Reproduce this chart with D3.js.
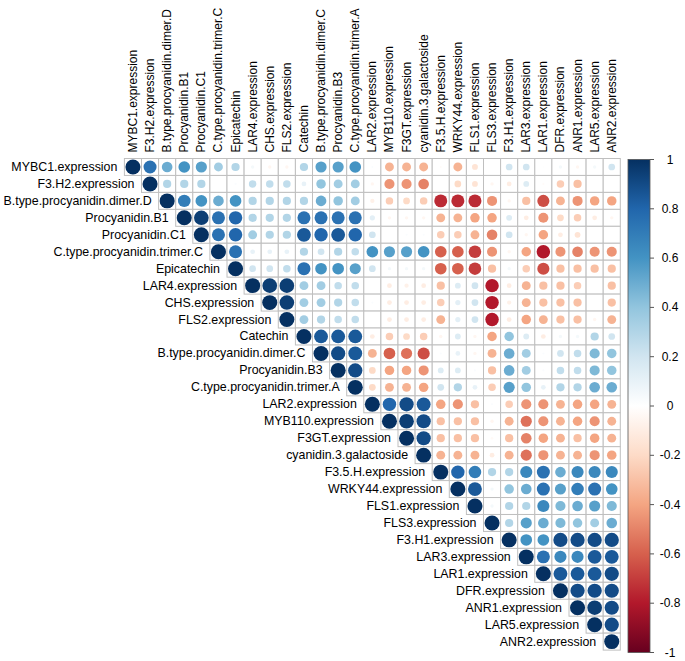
<!DOCTYPE html>
<html>
<head>
<meta charset="utf-8">
<script src="https://cdn.jsdelivr.net/npm/d3@7"></script>
<style>
    body { margin: 0; background: #fff; }
    svg { display: block; font-family: "Liberation Sans", Arial, sans-serif; }
</style>
</head>
<body>
<div id="chart"></div>
<script>
// variable names, same order for rows and columns
const vars = [
    "MYBC1.expression", "F3.H2.expression", "B.type.procyanidin.dimer.D", "Procyanidin.B1",
    "Procyanidin.C1", "C.type.procyanidin.trimer.C", "Epicatechin", "LAR4.expression",
    "CHS.expression", "FLS2.expression", "Catechin", "B.type.procyanidin.dimer.C",
    "Procyanidin.B3", "C.type.procyanidin.trimer.A", "LAR2.expression", "MYB110.expression",
    "F3GT.expression", "cyanidin.3.galactoside", "F3.5.H.expression", "WRKY44.expression",
    "FLS1.expression", "FLS3.expression", "F3.H1.expression", "LAR3.expression",
    "LAR1.expression", "DFR.expression", "ANR1.expression", "LAR5.expression", "ANR2.expression"
];

// upper triangle, row i holds correlations with columns i+1 .. end (diagonal is 1)
const upper = [
    [0.75, 0.5, 0.6, 0.55, 0.35, 0.3, 0.05, -0.05, -0.05, 0.3, 0.55, 0.55, 0.6, 0.02, -0.35, -0.35, -0.35, -0.02, -0.35, -0.15, 0, 0.2, 0.2, 0.01, 0.05, -0.05, 0.05, 0.2],
    [0.3, 0.3, 0.3, 0, 0.02, 0.25, 0.25, 0.25, 0.1, 0.4, 0.35, 0.35, -0.05, -0.45, -0.45, -0.5, 0, -0.2, -0.15, -0.05, -0.1, 0.15, -0.02, -0.25, -0.3, 0, 0],
    [0.7, 0.6, 0.5, 0.6, 0.3, 0.3, 0.3, 0.3, 0.5, 0.4, 0.35, -0.08, -0.25, -0.2, -0.25, -0.75, -0.75, -0.75, -0.45, -0.05, -0.3, -0.65, -0.35, -0.45, -0.4, -0.4],
    [0.95, 0.75, 0.8, 0.3, 0.3, 0.3, 0.75, 0.75, 0.75, 0.75, 0.12, -0.05, -0.05, -0.05, -0.35, -0.35, -0.4, -0.4, 0.15, -0.1, -0.45, -0.2, -0.25, -0.1, -0.05],
    [0.75, 0.8, 0.35, 0.3, 0.3, 0.85, 0.8, 0.85, 0.8, 0.2, 0, 0.02, 0.02, -0.25, -0.25, -0.35, -0.5, 0.2, -0.05, -0.4, -0.1, -0.15, 0, 0],
    [0.75, 0.1, 0.1, 0.1, 0.3, 0.2, 0.3, 0.25, 0.6, 0.55, 0.55, 0.6, -0.6, -0.6, -0.7, -0.45, -0.05, -0.4, -0.8, -0.45, -0.5, -0.45, -0.45],
    [0.2, 0.2, 0.25, 0.75, 0.6, 0.6, 0.55, 0.2, 0.05, 0.05, 0.05, -0.6, -0.6, -0.7, -0.3, 0.05, -0.25, -0.65, -0.3, -0.3, -0.3, -0.3],
    [0.95, 0.95, 0.35, 0.35, 0.25, 0.25, 0, -0.1, -0.08, -0.1, -0.3, 0.15, 0.2, -0.8, -0.1, -0.35, -0.3, -0.3, -0.25, 0, -0.3],
    [0.95, 0.35, 0.35, 0.3, 0.25, 0.02, -0.1, -0.1, -0.1, -0.25, 0.12, 0.2, -0.8, -0.08, -0.35, -0.3, -0.3, -0.3, 0, -0.3],
    [0.35, 0.3, 0.25, 0.25, 0, -0.1, -0.1, -0.1, -0.35, 0.12, 0.2, -0.8, -0.1, -0.4, -0.35, -0.3, -0.3, -0.05, -0.35],
    [0.85, 0.85, 0.85, -0.1, -0.25, -0.2, -0.25, -0.05, 0.15, -0.05, -0.4, 0.4, 0.15, -0.1, 0.05, 0.05, 0.3, 0.2],
    [0.9, 0.85, -0.35, -0.6, -0.55, -0.65, 0.02, 0.1, -0.05, -0.35, 0.5, 0.35, 0.02, 0.2, 0.25, 0.45, 0.4],
    [0.9, -0.2, -0.4, -0.4, -0.45, 0.15, 0.15, 0.02, -0.3, 0.5, 0.35, 0.02, 0.25, 0.25, 0.45, 0.4],
    [-0.2, -0.35, -0.35, -0.4, 0.2, 0.3, 0.1, -0.25, 0.55, 0.4, 0.1, 0.3, 0.3, 0.5, 0.5],
    [0.8, 0.9, 0.85, -0.4, -0.45, -0.3, 0.02, -0.25, -0.45, -0.45, -0.35, -0.4, -0.4, -0.35],
    [0.95, 0.9, -0.3, -0.3, -0.3, -0.05, -0.35, -0.55, -0.45, -0.35, -0.4, -0.45, -0.35],
    [0.9, -0.3, -0.3, -0.3, -0.03, -0.3, -0.5, -0.4, -0.35, -0.3, -0.4, -0.35],
    [-0.35, -0.35, -0.35, -0.1, -0.35, -0.55, -0.45, -0.35, -0.35, -0.45, -0.4],
    [0.8, 0.7, 0.3, 0.3, 0.65, 0.75, 0.5, 0.65, 0.65, 0.65],
    [0.85, 0.05, 0.4, 0.5, 0.75, 0.55, 0.7, 0.75, 0.6],
    [0.05, 0.3, 0.3, 0.65, 0.45, 0.5, 0.55, 0.45],
    [0.3, 0.55, 0.5, 0.45, 0.4, 0.35, 0.5],
    [0.6, 0.6, 0.9, 0.9, 0.9, 0.9],
    [0.75, 0.65, 0.65, 0.85, 0.85],
    [0.85, 0.85, 0.85, 0.9],
    [0.9, 0.9, 0.9],
    [0.95, 0.9],
    [0.9],
    []
];

const legendTicks = [1, 0.8, 0.6, 0.4, 0.2, 0, -0.2, -0.4, -0.6, -0.8, -1];

// RdBu ramp, from -1 to 1
const palette = ["#67001F", "#B2182B", "#D6604D", "#F4A582", "#FDDBC7", "#FFFFFF",
                 "#D1E5F0", "#92C5DE", "#4393C3", "#2166AC", "#053061"];

const width = 685, height = 661;

const svg = d3.select("#chart").append("svg")
    .attr("width", width)
    .attr("height", height);

const x = d3.scaleBand().domain(vars).range([124.4, 620.3]);
const y = d3.scaleBand().domain(vars).range([158.5, 650.1]);
const color = d3.scaleLinear()
    .domain(palette.map((c, i) => -1 + i * 0.2))
    .range(palette);

// flatten to cells (upper triangle incl. diagonal)
const cells = [];
vars.forEach((rv, i) => {
    cells.push({ row: rv, col: rv, r: 1 });
    upper[i].forEach((v, k) => cells.push({ row: rv, col: vars[i + k + 1], r: v }));
});

const g = svg.append("g");

g.selectAll("rect.cell")
    .data(cells)
    .enter().append("rect")
    .attr("class", "cell")
    .attr("x", d => x(d.col))
    .attr("y", d => y(d.row))
    .attr("width", x.bandwidth())
    .attr("height", y.bandwidth())
    .attr("fill", "#fff")
    .attr("stroke", "#bfbfbf")
    .attr("stroke-width", 1);

g.selectAll("ellipse")
    .data(cells)
    .enter().append("ellipse")
    .attr("cx", d => x(d.col) + x.bandwidth() / 2)
    .attr("cy", d => y(d.row) + y.bandwidth() / 2)
    .attr("rx", d => 0.44 * Math.sqrt(Math.abs(d.r)) * x.bandwidth())
    .attr("ry", d => 0.44 * Math.sqrt(Math.abs(d.r)) * y.bandwidth())
    .attr("fill", d => color(d.r));

// row labels, ending just left of the diagonal cell
svg.selectAll("text.rowlab")
    .data(vars)
    .enter().append("text")
    .attr("class", "rowlab")
    .attr("x", d => x(d) - 7)
    .attr("y", d => y(d) + y.bandwidth() / 2)
    .attr("text-anchor", "end")
    .attr("dominant-baseline", "central")
    .style("font-size", "12.4px")
    .text(d => d);

// column labels, vertical
svg.selectAll("text.collab")
    .data(vars)
    .enter().append("text")
    .attr("class", "collab")
    .attr("transform", d => "translate(" + (x(d) + x.bandwidth() / 2) + "," + (y.range()[0] - 6) + ") rotate(-90)")
    .attr("text-anchor", "start")
    .attr("dominant-baseline", "central")
    .style("font-size", "12px")
    .text(d => d);

// colour legend
const defs = svg.append("defs");
const grad = defs.append("linearGradient")
    .attr("id", "rdbu")
    .attr("x1", 0).attr("y1", 1).attr("x2", 0).attr("y2", 0);
palette.forEach((c, i) => {
    grad.append("stop").attr("offset", (i / (palette.length - 1) * 100) + "%").attr("stop-color", c);
});

const ly = d3.scaleLinear().domain([1, -1]).range([159.5, 652.5]);
const lx0 = 628, lx1 = 650;

svg.append("rect")
    .attr("x", lx0)
    .attr("y", ly(1))
    .attr("width", lx1 - lx0)
    .attr("height", ly(-1) - ly(1))
    .attr("fill", "url(#rdbu)")
    .attr("stroke", "#555")
    .attr("stroke-width", 0.8);

svg.selectAll("line.ltick")
    .data(legendTicks)
    .enter().append("line")
    .attr("class", "ltick")
    .attr("x1", lx1).attr("x2", lx1 + 4)
    .attr("y1", d => ly(d)).attr("y2", d => ly(d))
    .attr("stroke", "#555");

svg.selectAll("text.llab")
    .data(legendTicks)
    .enter().append("text")
    .attr("class", "llab")
    .attr("x", 670)
    .attr("y", d => ly(d))
    .attr("text-anchor", "middle")
    .attr("dominant-baseline", "central")
    .style("font-size", "12px")
    .text(d => d);
</script>
</body>
</html>
